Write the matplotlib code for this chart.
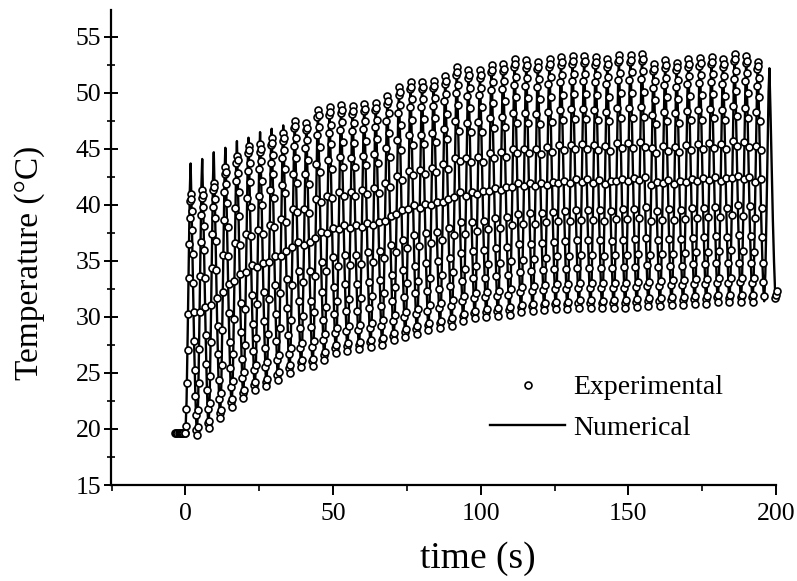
import numpy as np
import matplotlib
matplotlib.use("Agg")
import matplotlib.pyplot as plt
from matplotlib.ticker import MultipleLocator

plt.rcParams['font.family'] = ['Liberation Serif', 'DejaVu Serif']

# cycle timing (about 51 heating spikes between 0 and 200 s)
period = 3.92
n_cycles = 51
cycle_start = np.arange(n_cycles) * period

# temperature at the start of each cycle (trough), last one is the final drop
troughs = [19.6, 19.5, 20.1, 21.0, 22.0, 22.8, 23.5, 23.8, 24.4, 25.0, 25.5,
           25.6, 26.2, 26.8, 27.0, 27.1, 27.3, 27.5, 27.9, 28.2, 28.5, 28.8,
           29.0, 29.2, 29.6, 29.9, 30.0, 30.1, 30.2, 30.4, 30.5, 30.6, 30.7,
           30.7, 30.8, 30.8, 30.8, 30.8, 30.8, 30.9, 31.0, 31.0, 31.1, 31.1,
           31.2, 31.2, 31.3, 31.3, 31.3, 31.3, 31.4, 31.6]

# peak of each cycle, experimental circles (50 cycles) and numerical line (51)
exp_peaks = [41.0, 41.3, 42.0, 43.4, 44.4, 45.3, 45.4, 46.0, 46.4, 47.5,
             47.3, 48.5, 48.7, 48.9, 48.8, 49.0, 49.1, 49.7, 50.5, 51.0,
             51.0, 51.1, 51.5, 52.3, 52.0, 52.0, 52.5, 52.6, 53.0, 52.9,
             52.8, 53.0, 53.2, 53.3, 53.3, 53.2, 53.0, 53.4, 53.4, 53.5,
             52.6, 52.9, 52.7, 53.0, 53.1, 53.2, 53.0, 53.5, 53.3, 52.8]
num_peaks = [43.7, 44.1, 44.7, 45.1, 45.7, 46.0, 46.5, 46.8, 47.1, 47.2,
             47.0, 48.2, 48.4, 48.6, 48.5, 48.7, 48.8, 49.4, 50.2, 50.7,
             50.7, 50.8, 51.2, 52.0, 51.7, 51.7, 52.2, 52.3, 52.7, 52.6,
             52.5, 52.7, 52.9, 53.0, 53.0, 52.9, 52.7, 53.1, 53.1, 53.2,
             52.3, 52.6, 52.4, 52.7, 52.8, 52.9, 52.7, 53.2, 53.0, 52.5,
             52.2]

# shape of one cycle (phase of the period, fraction of the swing), read from a single cycle
exp_phase = [0.0, 0.045, 0.09, 0.136, 0.182, 0.227, 0.273, 0.318, 0.364, 0.409, 0.455,
             0.5, 0.545, 0.59, 0.636, 0.682, 0.727, 0.773, 0.818, 0.864, 0.909, 0.955]
exp_frac = [0.0, 0.03, 0.10, 0.21, 0.35, 0.50, 0.65, 0.79, 0.90, 0.97, 1.0,
            0.98, 0.93, 0.85, 0.75, 0.63, 0.51, 0.39, 0.27, 0.16, 0.08, 0.02]
num_phase = [0.0, 0.1, 0.2, 0.3, 0.38, 0.45, 0.55, 0.65, 0.75, 0.85, 0.93]
num_frac = [0.0, 0.12, 0.38, 0.68, 0.9, 1.0, 0.8, 0.56, 0.34, 0.16, 0.05]

# flat part before heating and the last points after the final drop
pre_t = [-3.5, -3.1, -2.7, -2.3, -1.9, -1.5, -1.1, -0.7, -0.3]
pre_T = [19.6, 19.6, 19.6, 19.6, 19.6, 19.6, 19.6, 19.6, 19.6]
end_t = [199.5, 199.9, 200.3]
end_T = [31.7, 32.0, 32.3]


def build(peaks, phase, frac):
    t_out, T_out = [], []
    for k, pk in enumerate(peaks):
        for ph, fr in zip(phase, frac):
            base = troughs[k] if ph <= 0.455 else troughs[k + 1]
            t_out.append(cycle_start[k] + ph * period)
            T_out.append(base + fr * (pk - base))
    return t_out, T_out


exp_t, exp_T = build(exp_peaks, exp_phase, exp_frac)
exp_t = pre_t + exp_t + end_t
exp_T = pre_T + exp_T + end_T

num_t, num_T = build(num_peaks, num_phase, num_frac)
num_t = [-3.5] + num_t + [cycle_start[-1] + period, 200.2]
num_T = [19.6] + num_T + [troughs[-1], 32.2]

fig = plt.figure(figsize=(7.97, 5.81), dpi=100)
ax = fig.add_axes([111 / 797, 1 - 485 / 581, 665 / 797, 475 / 581])

ax.plot(num_t, num_T, color='black', lw=1.7, label='Numerical', zorder=2)
ax.plot(exp_t, exp_T, 'o', ms=5.0, mfc='white', mec='black', mew=1.2,
        label='Experimental', zorder=3, clip_on=False)

ax.set_xlim(-25.2, 200)
ax.set_ylim(15, 57.4)
ax.xaxis.set_major_locator(MultipleLocator(50))
ax.xaxis.set_minor_locator(MultipleLocator(25))
ax.yaxis.set_major_locator(MultipleLocator(5))
ax.yaxis.set_minor_locator(MultipleLocator(2.5))

for s in ['top', 'right']:
    ax.spines[s].set_visible(False)
for s in ['left', 'bottom']:
    ax.spines[s].set_linewidth(1.6)

ax.tick_params(axis='x', which='major', direction='out', length=7, width=1.4, labelsize=18.5, pad=6)
ax.tick_params(axis='x', which='minor', direction='out', length=4, width=1.2)
ax.tick_params(axis='y', which='major', direction='inout', length=10, width=1.4, labelsize=18.5, pad=2)
ax.tick_params(axis='y', which='minor', direction='inout', length=6, width=1.2)

ax.set_xlabel('time (s)', fontsize=27)
ax.xaxis.set_label_coords(0.552, -0.118)
ax.set_ylabel('Temperature (°C)', fontsize=24)
ax.yaxis.set_label_coords(-0.10, 0.467)

h, l = ax.get_legend_handles_labels()
ax.legend(h[::-1], l[::-1], frameon=False, fontsize=20, numpoints=1,
          handlelength=2.7, handletextpad=0.3, labelspacing=0.55,
          loc='upper left', bbox_to_anchor=(490 / 797, 1 - 375 / 581),
          bbox_transform=fig.transFigure, borderpad=0, borderaxespad=0)

fig.savefig('out.png', dpi=100)
